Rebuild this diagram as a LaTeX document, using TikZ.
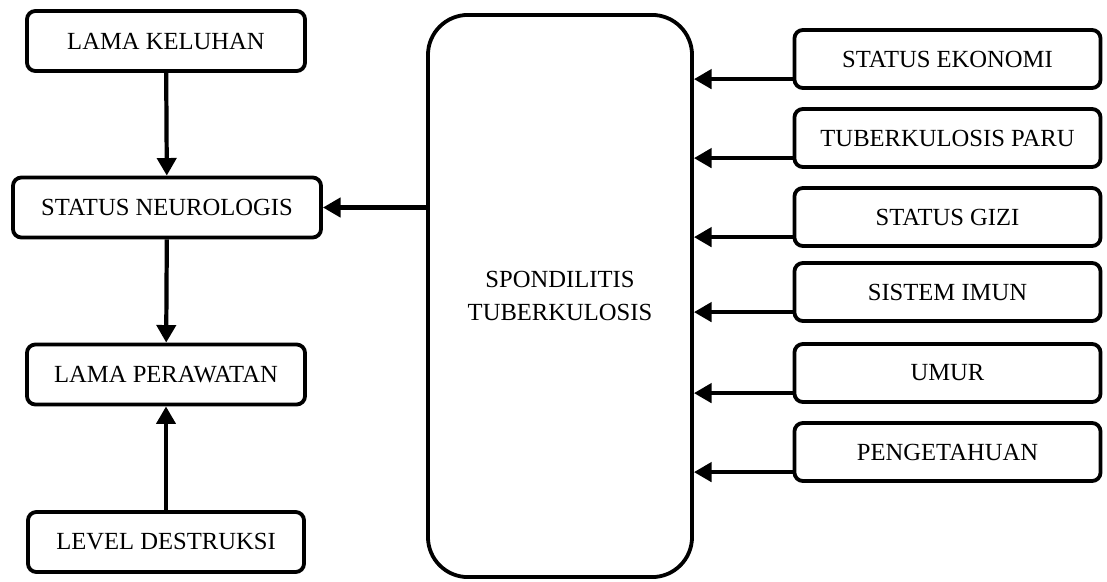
\documentclass[tikz,border=0pt]{standalone}
\usepackage{fontspec}
\setmainfont{Liberation Serif}
\usetikzlibrary{arrows.meta}

\begin{document}
\begin{tikzpicture}[x=0.025cm, y=-0.025cm,
    kotak/.style={draw, rounded corners=6pt, line width=2.7pt, inner sep=0pt, font=\fontsize{17.5}{23}\selectfont},
    kiri/.style={kotak, minimum height=1.5cm},
    kanan/.style={kotak, minimum width=7.65cm, minimum height=1.45cm},
    panah/.style={line width=3pt, -{Triangle[length=12.5pt,width=13.5pt]}}]

    \useasboundingbox (0,0) rectangle (1107,581);

    \node[kiri, minimum width=6.95cm] (keluhan) at (166,41) {LAMA KELUHAN};
    \node[kiri, minimum width=7.7cm] (neuro) at (167,207.5) {STATUS NEUROLOGIS};
    \node[kiri, minimum width=6.95cm] (rawat) at (166,374.5) {LAMA PERAWATAN};
    \node[kiri, minimum width=6.9cm] (destruksi) at (166,542) {LEVEL DESTRUKSI};

    \node[kotak, rounded corners=1cm, minimum width=6.6cm, minimum height=14.05cm, align=center] (spond) at (560,296) {SPONDILITIS\\TUBERKULOSIS};

    \node[kanan] (ekonomi) at (947.5,59) {STATUS EKONOMI};
    \node[kanan] (paru) at (947.5,138) {TUBERKULOSIS PARU};
    \node[kanan] (gizi) at (947.5,217) {STATUS GIZI};
    \node[kanan] (imun) at (947.5,292) {SISTEM IMUN};
    \node[kanan] (umur) at (947.5,373) {UMUR};
    \node[kanan] (tahu) at (947.5,452) {PENGETAHUAN};

    \draw[panah] (keluhan) -- (neuro);
    \draw[panah] (neuro) -- (rawat);
    \draw[panah] (destruksi) -- (rawat);
    \draw[panah] (spond.west |- neuro.east) -- (neuro.east);

    \foreach \n in {ekonomi,paru,gizi,imun,umur,tahu}
      \draw[panah] ([yshift=0.27cm]\n.south west) -- ([yshift=0.27cm]\n.south west -| spond.east);

\end{tikzpicture}
\end{document}
